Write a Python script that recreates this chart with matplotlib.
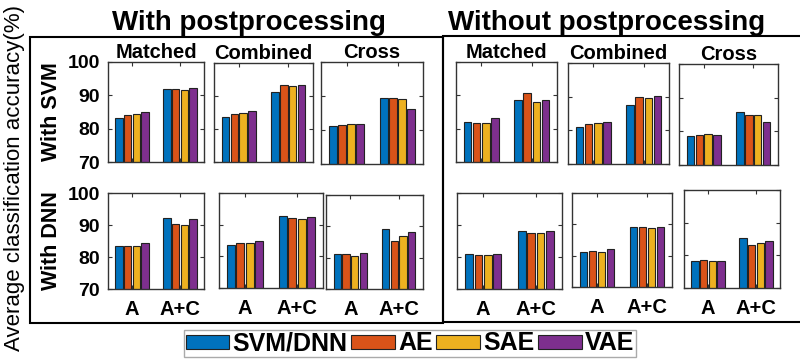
import numpy as np
import matplotlib
matplotlib.use('Agg')
import matplotlib.pyplot as plt
from matplotlib.patches import Rectangle

plt.rcParams['font.family'] = ['Liberation Sans', 'DejaVu Sans']

## data  (condition x group x method)
conditions = ['Matched', 'Combined', 'Cross']
groups = ['A', 'A+C']
methods = ['SVM/DNN', 'AE', 'SAE', 'VAE']
colors = ['#0072BD', '#D95319', '#EDB120', '#7E2F8E']

svm_post = [[[83.3, 84.2, 84.3, 84.9], [92.0, 91.8, 91.5, 92.2]],
            [[83.6, 84.5, 85.0, 85.5], [91.2, 93.3, 93.1, 93.3]],
            [[81.3, 81.5, 81.7, 81.8], [89.4, 89.4, 89.0, 86.2]]]
dnn_post = [[[83.5, 83.5, 83.5, 84.4], [92.1, 90.2, 89.9, 91.8]],
            [[83.7, 84.3, 84.1, 84.8], [92.6, 92.0, 91.9, 92.5]],
            [[81.1, 81.3, 80.5, 81.5], [89.3, 85.4, 86.8, 88.3]]]
svm_raw = [[[82.1, 81.6, 81.6, 83.3], [88.5, 90.6, 87.9, 88.7]],
           [[81.0, 82.0, 82.1, 82.6], [87.6, 89.9, 89.7, 90.1]],
           [[78.6, 78.8, 79.1, 78.8], [85.6, 85.0, 85.0, 82.9]]]
dnn_raw = [[[81.0, 80.7, 80.7, 80.9], [88.0, 87.6, 87.6, 88.1]],
           [[81.2, 81.5, 81.1, 82.0], [89.0, 89.0, 88.8, 89.2]],
           [[78.3, 78.5, 78.2, 78.3], [85.3, 83.2, 83.7, 84.4]]]

W, H = 800, 359
fig = plt.figure(figsize=(W / 100, H / 100), dpi=100)


def px_axes(x0, x1, ytop, ybot):
    return fig.add_axes([x0 / W, 1 - ybot / H, (x1 - x0) / W, (ybot - ytop) / H])


# axes boxes in pixels: (x0, x1, ytop, ybot)
boxes = {
    ('svm_post', 0): (108, 204, 62, 162), ('svm_post', 1): (214, 313, 63, 162), ('svm_post', 2): (321, 423, 62, 164),
    ('dnn_post', 0): (108, 204, 193, 289), ('dnn_post', 1): (219, 323, 193, 288), ('dnn_post', 2): (326, 423, 195, 289),
    ('svm_raw', 0): (456, 557, 62, 162), ('svm_raw', 1): (568, 669, 63, 164), ('svm_raw', 2): (679, 778, 64, 165),
    ('dnn_raw', 0): (457, 562, 193, 289), ('dnn_raw', 1): (572, 672, 193, 287), ('dnn_raw', 2): (684, 780, 190, 288),
}
datasets = {'svm_post': svm_post, 'dnn_post': dnn_post, 'svm_raw': svm_raw, 'dnn_raw': dnn_raw}

xg = np.arange(1, len(groups) + 1)
offs = (np.arange(len(methods)) - 1.5) * 0.18
bw = 0.15

handles = []
for (name, ci), box in boxes.items():
    ax = px_axes(*box)
    vals = np.array(datasets[name][ci])
    for m in range(len(methods)):
        b = ax.bar(xg + offs[m], vals[:, m], bw, color=colors[m],
                   edgecolor='#222222', linewidth=0.8)
        if name == 'svm_post' and ci == 0:
            handles.append(b)
    ax.set_xlim(0.5, 2.5)
    ax.set_ylim(70, 100)
    ax.set_yticks([70, 80, 90, 100])
    ax.set_xticks(xg)
    ax.tick_params(direction='in', length=3, top=True, right=True, width=0.8,
                   color='#333333', labelsize=14.5)
    for s in ax.spines.values():
        s.set_color('#333333')
        s.set_linewidth(1.0)
    if name.startswith('dnn'):
        ax.set_xticklabels(groups, fontweight='bold')
        ax.tick_params(axis='x', pad=8)
    else:
        ax.set_xticklabels([])
        ax.set_title(conditions[ci], fontsize=14.5, fontweight='bold', pad=3)
    if name.endswith('post') and ci == 0:
        ax.set_yticklabels([70, 80, 90, 100], fontweight='bold', fontsize=14)
        ax.tick_params(axis='y', pad=6)
        ax.set_ylabel('With SVM' if name.startswith('svm') else 'With DNN',
                      fontsize=15.5, fontweight='bold', labelpad=4)
    else:
        ax.set_yticklabels([])

# outer frames
fig.add_artist(Rectangle((30 / W, 1 - 323 / H), (443 - 30) / W, (323 - 37) / H,
                         transform=fig.transFigure, fill=False, lw=1.5, ec='black'))
fig.add_artist(Rectangle((443 / W, 1 - 322 / H), (810 - 443) / W, (322 - 36) / H,
                         transform=fig.transFigure, fill=False, lw=1.5, ec='black'))

fig.text(249 / W, 1 - 30 / H, 'With postprocessing', ha='center', va='baseline',
         fontsize=20, fontweight='bold')
fig.text(607 / W, 1 - 30 / H, 'Without postprocessing', ha='center', va='baseline',
         fontsize=20, fontweight='bold')
fig.text(15 / W, 1 - 178 / H, 'Average classification accuracy(%)', rotation=90,
         ha='center', va='center', fontsize=16)

fig.legend(handles, methods, loc='center', bbox_to_anchor=(410 / W, 1 - 343.5 / H),
           ncol=4, prop={'weight': 'bold', 'size': 18},
           handlelength=1.75, handleheight=0.5, handletextpad=0.12, columnspacing=0.15,
           borderpad=0.05, borderaxespad=0, fancybox=False, edgecolor='#aaaaaa',
           framealpha=1)

fig.savefig('out.png', dpi=100)
